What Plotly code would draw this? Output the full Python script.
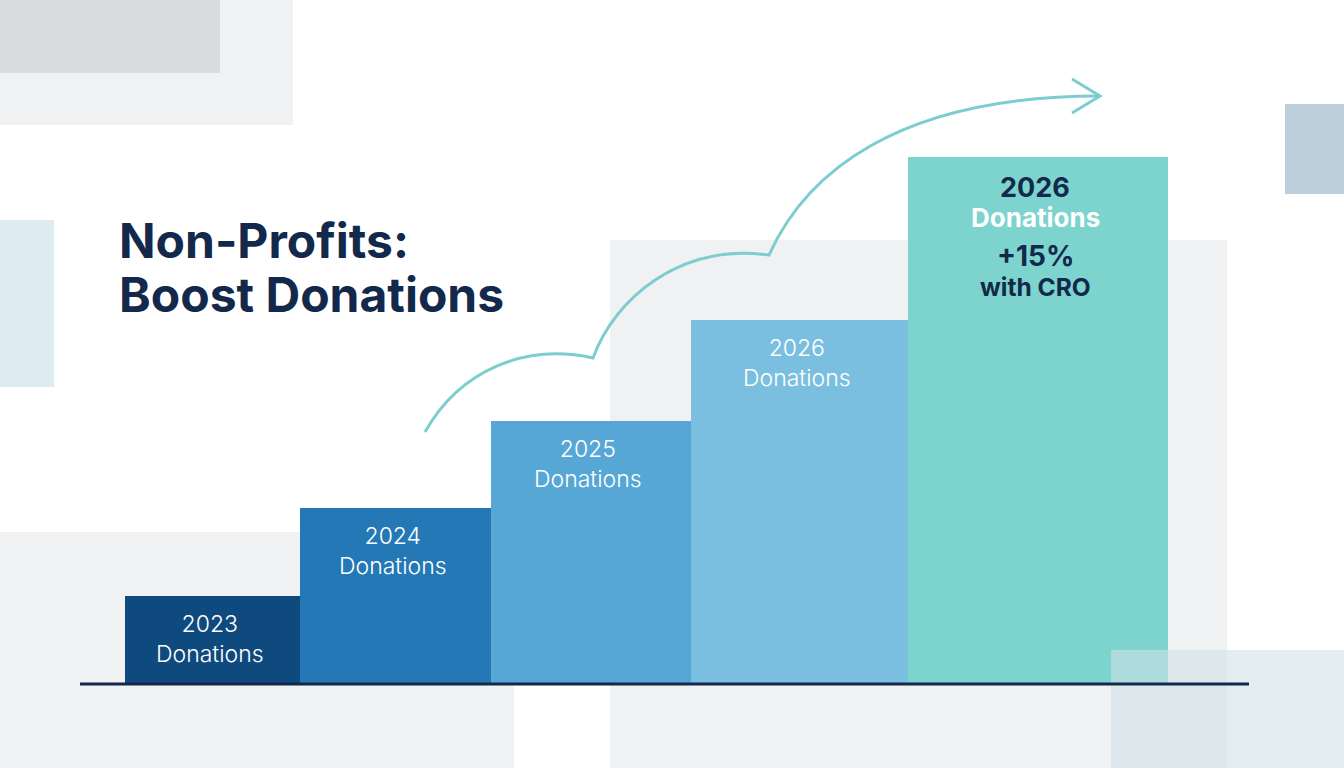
import plotly.graph_objects as go

# data
years = ["2023", "2024", "2025", "2026", "2026"]
donations = [1.0, 2.0, 3.0, 4.15, 6.0]          # relative donation level (2023 = 1)
label_word = "Donations"
highlight_lines = ["+15%", "with CRO"]
title_lines = ["Non-Profits:", "Boost Donations"]

# layout of the bars (pixel-like x axis 0..1344)
bar_centers = [212.5, 395.5, 591, 799.5, 1038]
bar_widths = [175, 191, 200, 217, 260]
bar_colors = ["#0f4a7f", "#2478b5", "#56a7d5", "#7bbfe0", "#7dd3cd"]

W, H = 1344, 768
unit = 87.8            # pixels per donation unit
base_px = 684          # baseline pixel row
NAVY = "#13294b"
TEAL = "#7ccdd0"
FONT = "Inter"


def px(x, y):
    return x / W, 1 - y / H


fig = go.Figure()

fig.add_bar(
    x=bar_centers, y=donations, width=bar_widths,
    marker=dict(color=bar_colors, line=dict(width=0)),
    hoverinfo="skip",
)

# background blocks (paper coords from pixels)
shapes = []


def rect(x0, y0, x1, y1, color, layer="below", opacity=1.0):
    a, b = px(x0, y0)
    c, d = px(x1, y1)
    shapes.append(dict(type="rect", xref="paper", yref="paper", x0=a, y0=d, x1=c, y1=b,
                       fillcolor=color, line=dict(width=0), layer=layer, opacity=opacity))


rect(0, 0, 293, 125, "#eff1f3")
rect(0, 0, 220, 73, "#d9dcdf")
rect(0, 220, 54, 387, "#deebf0")
rect(1285, 104, 1344, 194, "#bdcfda")
rect(610, 240, 1227, 768, "#eff1f3")
rect(0, 532, 514, 768, "#f1f2f4")
rect(1111, 650, 1344, 768, "#cfe2e8", layer="above", opacity=0.6)

# baseline
a, b = px(80, base_px)
c, _ = px(1249, base_px)
shapes.append(dict(type="line", xref="paper", yref="paper", x0=a, y0=b, x1=c, y1=b,
                   line=dict(color=NAVY, width=3), layer="above"))


# growth arrow
def pt(x, y):
    u, v = px(x, y)
    return f"{u:.5f},{v:.5f}"


path = ("M " + pt(425, 432) + " C " + pt(460, 370) + " " + pt(525, 343) + " " + pt(593, 358)
        + " C " + pt(615, 298) + " " + pt(680, 243) + " " + pt(769, 255)
        + " C " + pt(805, 175) + " " + pt(895, 96) + " " + pt(1100, 96))
shapes.append(dict(type="path", xref="paper", yref="paper", path=path,
                   line=dict(color=TEAL, width=3), layer="above"))
head = "M " + pt(1072, 79) + " L " + pt(1100, 96) + " L " + pt(1072, 113)
shapes.append(dict(type="path", xref="paper", yref="paper", path=head,
                   line=dict(color=TEAL, width=3), layer="above"))

annotations = []
# title, one annotation per line
for i, line in enumerate(title_lines):
    annotations.append(dict(
        text=line, xref="paper", yref="paper",
        x=px(117, 0)[0], y=px(0, 240 + 55 * i)[1], xanchor="left", yanchor="middle",
        align="left", showarrow=False,
        font=dict(family=FONT, size=48, color=NAVY, weight=700)))


def label(x, y, txt, dy, color, size, weight):
    annotations.append(dict(
        text=txt, x=x, y=y, xref="x", yref="y", yshift=-dy, xshift=-3, showarrow=False,
        xanchor="center", yanchor="middle",
        font=dict(family=FONT, size=size, color=color, weight=weight)))


# plain bars: year + "Donations" (two lines in one label)
for xc, val, yr in zip(bar_centers[:-1], donations[:-1], years[:-1]):
    label(xc, val, yr + "<br>" + label_word, 43, "white", 23, 300)

# highlighted bar
xc, val = bar_centers[-1], donations[-1]
label(xc, val, years[-1], 30, NAVY, 27, 700)
label(xc, val, label_word, 60, "white", 26, 700)
label(xc, val, highlight_lines[0], 99, NAVY, 28, 700)
label(xc, val, highlight_lines[1], 130, NAVY, 24.5, 700)

fig.update_layout(
    width=W, height=H, margin=dict(l=0, r=0, t=0, b=0),
    paper_bgcolor="white", plot_bgcolor="rgba(0,0,0,0)",
    showlegend=False, bargap=0, shapes=shapes, annotations=annotations,
    xaxis=dict(range=[0, W], visible=False, fixedrange=True),
    yaxis=dict(range=[-(H - base_px) / unit, base_px / unit], visible=False, fixedrange=True),
)

fig.write_html("out.html", config={"displayModeBar": False},
               post_script="document.body.style.margin='0';")
